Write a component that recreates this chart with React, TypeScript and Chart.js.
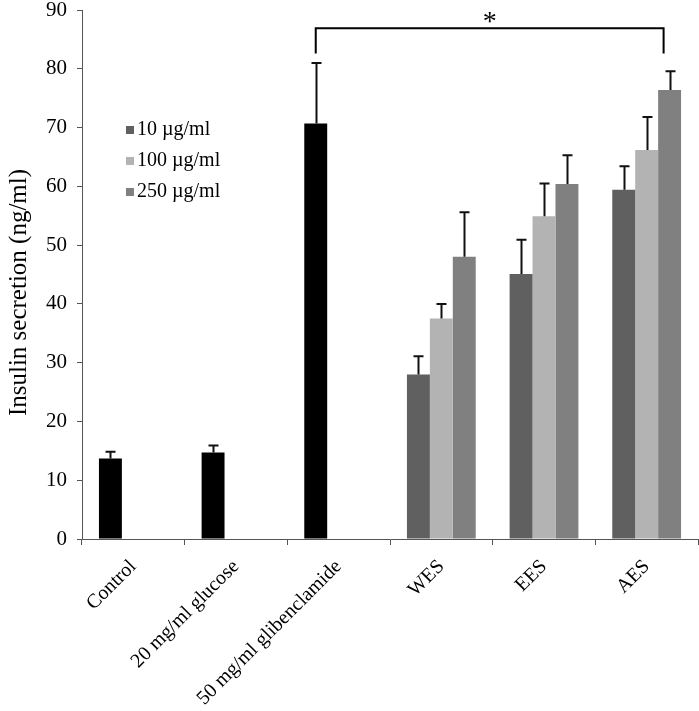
import React, { useEffect, useRef } from "react";
import { Chart, registerables } from "chart.js";

Chart.register(...registerables);

const categories = ["Control", "20 mg/ml glucose", "50 mg/ml glibenclamide", "WES", "EES", "AES"];
const seriesLabels = ["10 µg/ml", "100 µg/ml", "250 µg/ml"];
const values10 = [13.7, 14.7, 70.7, 28.0, 45.1, 59.4];
const values100 = [null, null, null, 37.5, 54.9, 66.2];
const values250 = [null, null, null, 48.0, 60.4, 76.4];
const errTop10 = [14.85, 15.9, 81.0, 31.1, 50.9, 63.4];
const errTop100 = [null, null, null, 40.0, 60.5, 71.8];
const errTop250 = [null, null, null, 55.6, 65.3, 79.6];
const controlGroups = [true, true, true, false, false, false];
const yTicks = [0, 10, 20, 30, 40, 50, 60, 70, 80, 90];
const yTitle = "Insulin secretion (ng/ml)";
const bracketLegLow = 82.6;
const bracketTop = 86.9;
const starLabel = "*";

const FONT = '"Liberation Serif", "Times New Roman", serif';
const seriesColors = ["#606060", "#b3b3b3", "#808080"];

export default function App() {
  const ref = useRef<HTMLCanvasElement | null>(null);

  useEffect(() => {
    if (!ref.current) return;
    const errs = [errTop10, errTop100, errTop250];

    const errorPlugin = {
      id: "errorBars",
      afterDatasetsDraw(chart: any) {
        const ctx = chart.ctx;
        const y = chart.scales.y;
        ctx.save();
        ctx.strokeStyle = "#111";
        ctx.lineWidth = 2;
        errs.forEach((arr, di) => {
          const meta = chart.getDatasetMeta(di);
          arr.forEach((e, i) => {
            const v = chart.data.datasets[di].data[i];
            if (e == null || v == null) return;
            const el = meta.data[i];
            const x = Math.round(el.x) + 0.5;
            const yt = y.getPixelForValue(e);
            const yb = y.getPixelForValue(v);
            ctx.beginPath();
            ctx.moveTo(x, yb);
            ctx.lineTo(x, yt);
            ctx.moveTo(x - 5, yt);
            ctx.lineTo(x + 5, yt);
            ctx.stroke();
          });
        });
        ctx.restore();
      },
    };

    const bracketPlugin = {
      id: "bracket",
      afterDraw(chart: any) {
        const ctx = chart.ctx;
        const y = chart.scales.y;
        const x1 = chart.getDatasetMeta(0).data[2].x;
        const x2 = chart.getDatasetMeta(2).data[5].x - 6;
        const yl = y.getPixelForValue(bracketLegLow);
        const yt = y.getPixelForValue(bracketTop);
        ctx.save();
        ctx.strokeStyle = "#000";
        ctx.lineWidth = 2;
        ctx.beginPath();
        ctx.moveTo(x1, yl);
        ctx.lineTo(x1, yt);
        ctx.lineTo(x2, yt);
        ctx.lineTo(x2, yl);
        ctx.stroke();
        ctx.fillStyle = "#000";
        ctx.font = `28px ${FONT}`;
        ctx.textAlign = "center";
        ctx.textBaseline = "alphabetic";
        ctx.fillText(starLabel, (x1 + x2) / 2, yt + 2);

        // legend
        const left = chart.chartArea.left + 44;
        const top0 = chart.chartArea.top + 120;
        ctx.font = `20px ${FONT}`;
        ctx.textAlign = "left";
        ctx.textBaseline = "middle";
        seriesLabels.forEach((lab, i) => {
          const cy = top0 + i * 31;
          ctx.fillStyle = seriesColors[i];
          ctx.fillRect(left, cy - 4, 8, 8);
          ctx.fillStyle = "#000";
          ctx.fillText(lab, left + 11, cy);
        });

        // y axis title
        ctx.translate(19, (chart.chartArea.top + chart.chartArea.bottom) / 2 + 18);
        ctx.rotate(-Math.PI / 2);
        ctx.font = `25px ${FONT}`;
        ctx.textAlign = "center";
        ctx.textBaseline = "middle";
        ctx.fillStyle = "#000";
        ctx.fillText(yTitle, 0, 0);
        ctx.restore();
      },
    };

    const chart = new Chart(ref.current, {
      type: "bar",
      data: {
        labels: categories,
        datasets: [
          {
            label: seriesLabels[0],
            data: values10,
            backgroundColor: controlGroups.map((c) => (c ? "#000000" : seriesColors[0])),
            borderWidth: 0,
          },
          { label: seriesLabels[1], data: values100 as any, backgroundColor: seriesColors[1], borderWidth: 0 },
          { label: seriesLabels[2], data: values250 as any, backgroundColor: seriesColors[2], borderWidth: 0 },
        ],
      },
      options: {
        animation: false,
        responsive: false,
        maintainAspectRatio: false,
        layout: { padding: { left: 2, right: 1, top: 10, bottom: 0 } },
        plugins: {
          legend: { display: false },
          tooltip: { enabled: false },
        },
        datasets: { bar: { categoryPercentage: 0.67, barPercentage: 1 } },
        scales: {
          x: {
            offset: true,
            grid: { display: true, drawOnChartArea: false, offset: true, tickLength: 6, color: "#555", lineWidth: 1 },
            border: { display: true, color: "#555", width: 1 },
            ticks: {
              color: "#000",
              font: { family: FONT, size: 20 },
              minRotation: 45,
              maxRotation: 45,
              padding: 10,
              autoSkip: false,
            },
            afterFit(scale: any) {
              scale.height = 172;
              scale.paddingLeft = 0;
              scale.paddingRight = 0;
            },
          },
          y: {
            min: 0,
            max: 90,
            afterBuildTicks(scale: any) {
              scale.ticks = yTicks.map((v) => ({ value: v }));
            },
            grid: { display: true, drawOnChartArea: false, tickLength: 5, color: "#555", lineWidth: 1 },
            border: { display: true, color: "#555", width: 1 },
            ticks: { color: "#000", font: { family: FONT, size: 21 }, padding: 10 },
            title: { display: false },
            afterFit(scale: any) {
              scale.width = 80;
              scale.paddingTop = 0;
              scale.paddingBottom = 0;
            },
          },
        },
      },
      plugins: [errorPlugin, bracketPlugin],
    });
    return () => chart.destroy();
  }, []);

  return (
    <div style={{ position: "fixed", left: 0, top: 0, width: 699, height: 711, background: "#fff" }}>
      <canvas ref={ref} width={699} height={711} style={{ width: 699, height: 711 }} />
    </div>
  );
}
